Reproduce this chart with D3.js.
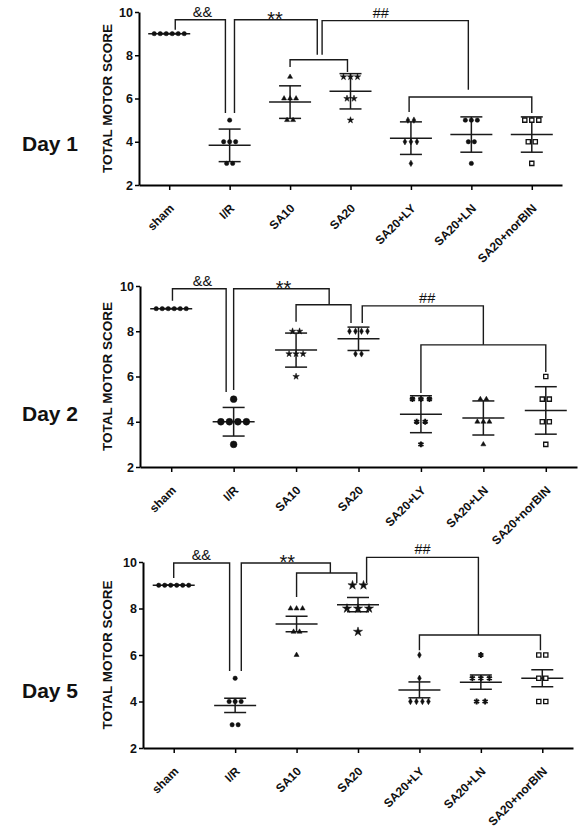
<!DOCTYPE html>
<html><head><meta charset="utf-8">
<script src="https://cdn.jsdelivr.net/npm/d3@7"></script>
<style>
body{margin:0;background:#fff;}
svg text{font-family:"Liberation Sans",Arial,sans-serif;font-weight:bold;fill:#111;}
</style></head>
<body><svg id="chart" width="583" height="829"></svg>
<script>
// ---------- data ----------
const categories = ["sham","I/R","SA10","SA20","SA20+LY","SA20+LN","SA20+norBIN"];
const yTicks = [2,4,6,8,10];
const dayLabels = ["Day 1","Day 2","Day 5"];
const yTitle = "TOTAL MOTOR SCORE";

// individual scores per group (6 animals each)
const day1Values = [
  [9,9,9,9,9,9],
  [5,4,4,4,3,3],
  [7,6,6,6,5,5],
  [7,7,7,6,6,5],
  [5,5,4,4,4,3],
  [5,5,5,4,4,3],
  [5,5,5,4,4,3]
];
const day2Values = [
  [9,9,9,9,9,9],
  [5,4,4,4,4,3],
  [8,8,7,7,7,6],
  [8,8,8,8,7,7],
  [5,5,5,4,4,3],
  [5,5,4,4,4,3],
  [6,5,5,4,4,3]
];
const day5Values = [
  [9,9,9,9,9,9],
  [5,4,4,4,3,3],
  [8,8,8,7,7,6],
  [9,9,8,8,8,7],
  [6,5,4,4,4,4],
  [6,5,5,5,4,4],
  [6,6,5,5,4,4]
];
// error type per day: SD for days 1,2 ; SEM for day 5
const errorTypes = ["sd","sd","sem"];
// marker symbols per day and group
const day1Markers = ["circle","circle","triangle","star","diamond","circle","square"];
const day2Markers = ["circle","bigcircle","star","diamond","asterisk","triangle","square"];
const day5Markers = ["circle","circle","triangle","bigstar","diamond","asterisk","square"];

// significance brackets: [x1 (category index), bottom1, x2, bottom2, top] in data units
const day1Brackets = [
  [0.10,9.18,0.93,5.33,9.64],
  [1.08,5.33,2.45,8.02,9.64],
  [2.00,7.46,2.95,7.23,7.79],
  [2.53,8.02,4.95,6.40,9.60],
  [3.97,5.38,6.00,5.33,6.07]
];
const day2Brackets = [
  [0.02,9.35,0.88,5.32,9.88],
  [1.00,5.40,2.53,9.17,9.88],
  [2.00,8.42,2.88,8.37,9.17],
  [3.06,8.37,5.00,7.40,9.12],
  [4.00,5.27,6.00,6.20,7.40]
];
const day5Brackets = [
  [0.00,9.31,0.91,5.31,9.96],
  [1.10,5.31,2.55,9.53,9.96],
  [2.00,8.50,2.98,9.10,9.53],
  [3.14,9.10,4.96,6.86,10.20],
  [4.00,6.20,5.97,6.20,6.86]
];
// bracket labels: [text, category index, value]
const day1Labels = [["&&",0.55,9.64],["**",1.75,9.64],["##",3.5,9.60]];
const day2Labels = [["&&",0.5,9.88],["**",1.8,9.88],["##",4.1,9.12]];
const day5Labels = [["&&",0.45,9.96],["**",1.85,9.96],["##",4.05,10.20]];

// ---------- layout ----------
const panels = [
  {values:day1Values, markers:day1Markers, brackets:day1Brackets, labels:day1Labels, x0:139, x1:562, yTop:12,  yBot:185, labelY:151},
  {values:day2Values, markers:day2Markers, brackets:day2Brackets, labels:day2Labels, x0:140, x1:577, yTop:286, yBot:467, labelY:421},
  {values:day5Values, markers:day5Markers, brackets:day5Brackets, labels:day5Labels, x0:143, x1:573, yTop:562, yBot:748, labelY:698}
];

const markerStyle = {
  circle:   {type:d3.symbolCircle,   size:15, fill:true,  sp:6,   sw:0.5},
  bigcircle:{type:d3.symbolCircle,   size:36, fill:true,  sp:8.5, sw:0.5},
  triangle: {type:d3.symbolTriangle, size:11, fill:true,  sp:6,   sw:0.5},
  star:     {type:d3.symbolStar,     size:13, fill:true,  sp:7,   sw:0.5},
  bigstar:  {type:d3.symbolStar,     size:26, fill:true,  sp:11,  sw:0.5},
  diamond:  {type:d3.symbolDiamond,  size:12, fill:true,  sp:6,   sw:0.5},
  asterisk: {type:d3.symbolAsterisk, size:24, fill:false, sp:8.5, sw:1.9},
  square:   {type:d3.symbolSquare,   size:18, fill:false, sp:7,   sw:1.3}
};

const svg = d3.select("#chart");
const ink = "#1a1a1a";

panels.forEach((p, pi) => {
  const g = svg.append("g");
  const x = d3.scalePoint().domain(categories).range([p.x0, p.x1]).padding(0.5);
  const step = x.step();
  const xi = i => x(categories[0]) + i*step;
  const y = d3.scaleLinear().domain([2,10]).range([p.yBot, p.yTop]);

  // axes
  const ya = g.append("g").attr("transform",`translate(${p.x0},0)`)
    .call(d3.axisLeft(y).tickValues(yTicks).tickSize(4).tickSizeOuter(0).tickPadding(2));
  ya.select(".domain").attr("stroke","#000").attr("stroke-width",2);
  ya.selectAll(".tick line").attr("stroke","#000").attr("stroke-width",1.5);
  ya.selectAll(".tick text").style("font-size","12.5px").attr("fill","#111").style("font-family","Liberation Sans, Arial").style("font-weight","bold");

  const xa = g.append("g").attr("transform",`translate(0,${p.yBot})`)
    .call(d3.axisBottom(x).tickSize(5).tickSizeOuter(0));
  xa.select(".domain").attr("stroke","#000").attr("stroke-width",2);
  xa.selectAll(".tick line").attr("stroke","#000").attr("stroke-width",1.5);
  xa.selectAll(".tick text")
    .style("font-size","12px").attr("fill","#111").style("font-family","Liberation Sans, Arial").style("font-weight","bold")
    .attr("text-anchor","end").attr("x",0).attr("y",0).attr("dx",0).attr("dy",0)
    .attr("transform","translate(5,24) rotate(-45)");

  // y title
  g.append("text").attr("transform",`translate(112,${(p.yTop+p.yBot)/2}) rotate(-90)`)
    .attr("text-anchor","middle").style("font-size","13.5px").text(yTitle);
  // day label
  g.append("text").attr("x",22).attr("y",p.labelY).style("font-size","21px").text(dayLabels[pi]);

  // brackets
  g.selectAll("path.br").data(p.brackets).join("path").attr("class","br")
    .attr("fill","none").attr("stroke",ink).attr("stroke-width",1.4)
    .attr("d", b => d3.line()([[xi(b[0]),y(b[1])],[xi(b[0]),y(b[4])],[xi(b[2]),y(b[4])],[xi(b[2]),y(b[3])]]));
  g.selectAll("text.bl").data(p.labels).join("text").attr("class","bl")
    .attr("x", d => xi(d[1])).attr("y", d => y(d[2]) + (d[0]==="**" ? 6 : -3))
    .attr("text-anchor","middle").style("font-size", d => d[0]==="**" ? "20px" : "14.5px")
    .style("font-weight","normal").text(d => d[0]);

  // groups
  p.values.forEach((vals, gi) => {
    const cx = x(categories[gi]);
    const mean = d3.mean(vals);
    const sd = d3.deviation(vals);
    const err = errorTypes[pi] === "sem" ? sd/Math.sqrt(vals.length) : sd;
    const ms = markerStyle[p.markers[gi]];
    // error bars
    const lines = [
      [[cx-21,y(mean)],[cx+21,y(mean)]],
      [[cx,y(mean-err)],[cx,y(mean+err)]],
      [[cx-11,y(mean+err)],[cx+11,y(mean+err)]],
      [[cx-11,y(mean-err)],[cx+11,y(mean-err)]]
    ];
    g.append("g").selectAll("path").data(lines).join("path")
      .attr("d", d => d3.line()(d)).attr("stroke",ink).attr("stroke-width",1.5).attr("fill","none");
    // points arranged in rows per value
    const counts = d3.rollup(vals, v => v.length, v => v);
    const pts = [];
    counts.forEach((n, v) => { for (let k=0;k<n;k++) pts.push({v, off:(k-(n-1)/2)*ms.sp}); });
    const sym = d3.symbol().type(ms.type).size(ms.size);
    g.append("g").selectAll("path").data(pts).join("path")
      .attr("transform", d => `translate(${cx+d.off},${y(d.v)})`)
      .attr("d", sym())
      .attr("fill", ms.fill ? "#111" : "#fff")
      .attr("stroke", "#111").attr("stroke-width", ms.sw);
  });
});
</script></body></html>
